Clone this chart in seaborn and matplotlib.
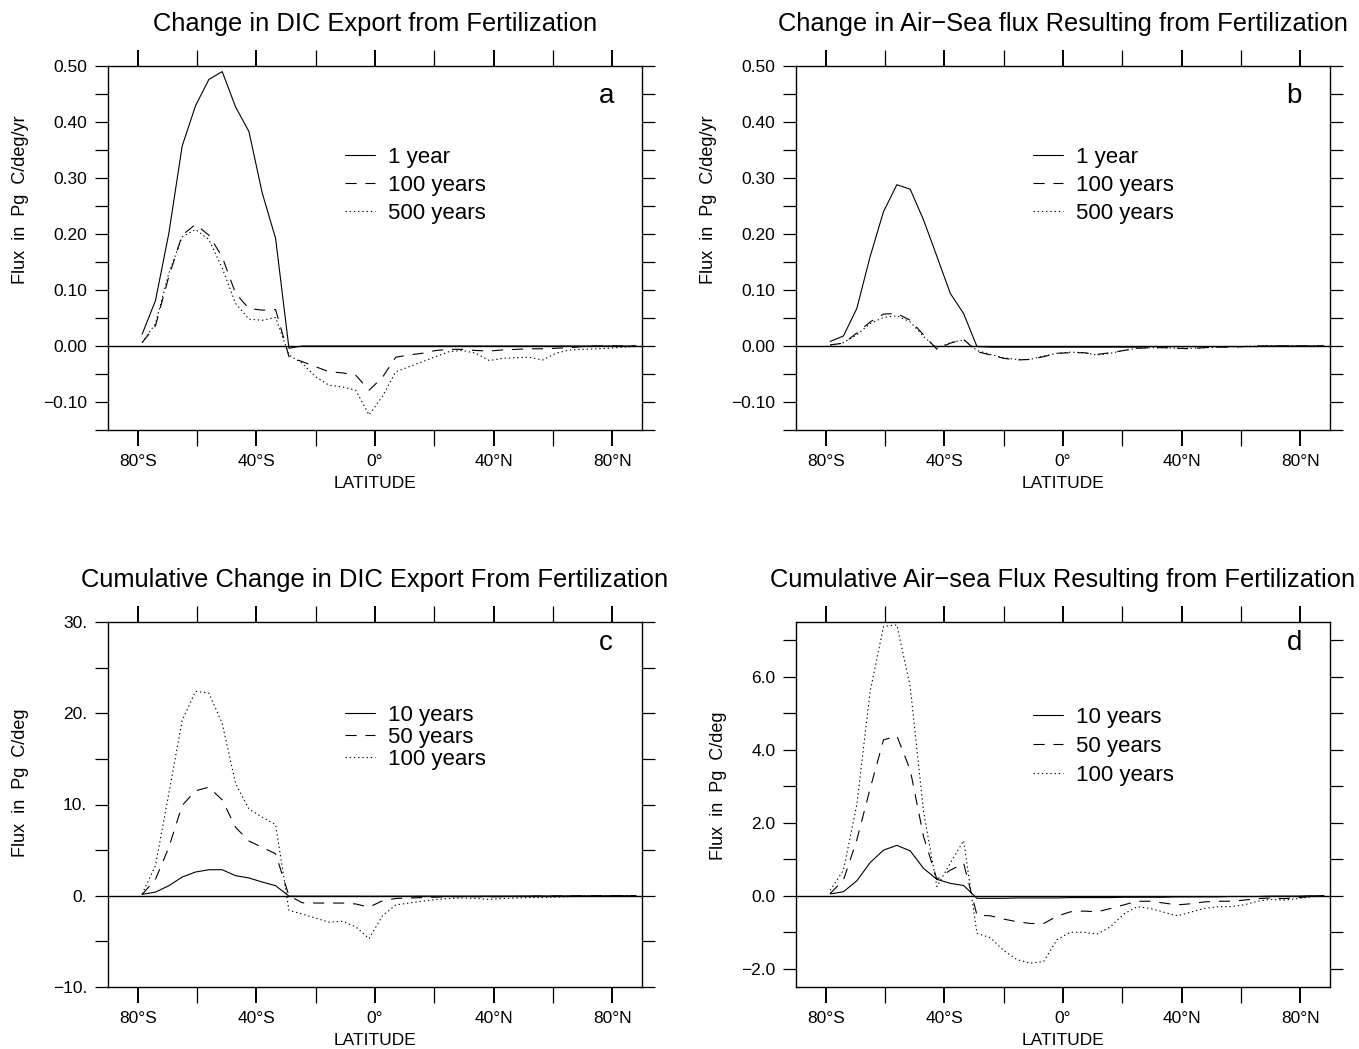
import matplotlib
matplotlib.use("Agg")
import matplotlib.pyplot as plt
from matplotlib.ticker import FixedLocator, FixedFormatter
import numpy as np
import pandas as pd
import seaborn as sns

# ---------------------------------------------------------------- data
# model latitude grid (4.5 degree spacing)
LAT = [-78.5, -74.0, -69.5, -65.0, -60.5, -56.0, -51.5, -47.0, -42.5, -38.0,
       -33.5, -29.0, -24.5, -20.0, -15.5, -11.0, -6.5, -2.0, 2.5, 7.0,
       11.5, 16.0, 20.5, 25.0, 29.5, 34.0, 38.5, 43.0, 47.5, 52.0,
       56.5, 61.0, 65.5, 70.0, 74.5, 79.0, 83.5, 88.0]

# (a) change in DIC export, Pg C/deg/yr
A_NAMES = ["1 year", "100 years", "500 years"]
A_1YR = [0.021, 0.081, 0.201, 0.357, 0.429, 0.476, 0.490, 0.427, 0.383, 0.273,
         0.192, -0.004, 0.000, 0.000, 0.000, 0.000, 0.000, 0.000, 0.000, 0.000,
         0.000, 0.000, 0.000, 0.000, 0.000, 0.000, 0.000, 0.000, 0.000, 0.000,
         0.000, 0.000, 0.000, 0.000, 0.000, 0.000, 0.000, 0.000]
A_100YR = [0.006, 0.036, 0.124, 0.198, 0.217, 0.198, 0.159, 0.094, 0.067, 0.064,
           0.065, -0.019, -0.028, -0.037, -0.046, -0.048, -0.052, -0.079, -0.056, -0.020,
           -0.016, -0.013, -0.008, -0.006, -0.006, -0.008, -0.009, -0.007, -0.006, -0.005,
           -0.005, -0.004, -0.003, -0.001, 0.000, 0.000, 0.000, 0.000]
A_500YR = [0.006, 0.040, 0.130, 0.195, 0.208, 0.190, 0.139, 0.076, 0.048, 0.046,
           0.051, -0.016, -0.031, -0.055, -0.070, -0.073, -0.079, -0.123, -0.090, -0.046,
           -0.037, -0.028, -0.019, -0.010, -0.008, -0.013, -0.026, -0.022, -0.021, -0.020,
           -0.025, -0.013, -0.007, -0.006, -0.005, -0.004, -0.002, -0.001]

# (b) change in air-sea flux, Pg C/deg/yr
B_NAMES = ["1 year", "100 years", "500 years"]
B_1YR = [0.008, 0.018, 0.067, 0.160, 0.240, 0.288, 0.280, 0.225, 0.160, 0.094,
         0.058, -0.001, -0.002, -0.002, -0.002, -0.002, -0.002, -0.002, -0.002, -0.002,
         -0.002, -0.002, -0.002, -0.002, -0.001, -0.001, -0.001, -0.001, -0.001, -0.001,
         -0.001, -0.001, -0.001, 0.000, 0.000, 0.000, 0.000, 0.000]
B_100YR = [0.002, 0.005, 0.023, 0.043, 0.057, 0.058, 0.046, 0.020, -0.006, 0.005,
           0.012, -0.010, -0.016, -0.022, -0.025, -0.024, -0.019, -0.013, -0.012, -0.012,
           -0.015, -0.012, -0.008, -0.004, -0.003, -0.003, -0.004, -0.005, -0.003, -0.002,
           -0.002, -0.001, 0.000, 0.000, 0.000, 0.000, 0.000, 0.000]
B_500YR = [0.001, 0.006, 0.020, 0.040, 0.051, 0.054, 0.043, 0.017, -0.004, 0.006,
           0.011, -0.008, -0.015, -0.021, -0.024, -0.024, -0.018, -0.013, -0.011, -0.012,
           -0.016, -0.013, -0.008, -0.004, -0.003, -0.003, -0.004, -0.004, -0.003, -0.002,
           -0.001, -0.001, 0.000, 0.000, 0.000, 0.000, 0.000, 0.000]

# (c) cumulative change in DIC export, Pg C/deg
C_NAMES = ["10 years", "50 years", "100 years"]
C_10YR = [0.15, 0.40, 1.10, 2.05, 2.60, 2.85, 2.85, 2.20, 1.95, 1.50,
          1.10, -0.04, -0.05, -0.05, -0.05, -0.05, -0.05, -0.06, -0.05, -0.05,
          -0.05, -0.04, -0.04, -0.04, -0.04, -0.04, -0.03, -0.03, -0.03, -0.02,
          -0.02, -0.02, -0.01, -0.01, -0.01, 0.00, 0.00, 0.00]
C_50YR = [0.15, 1.80, 5.30, 9.90, 11.50, 11.90, 10.50, 7.50, 6.00, 5.30,
          4.60, 0.00, -0.77, -0.80, -0.80, -0.80, -0.90, -1.25, -0.55, -0.30,
          -0.25, -0.20, -0.15, -0.10, -0.10, -0.10, -0.12, -0.10, -0.08, -0.06,
          -0.05, -0.03, -0.02, -0.01, 0.00, 0.00, 0.00, 0.00]
C_100YR = [0.20, 3.30, 11.20, 19.20, 22.40, 22.20, 18.90, 12.30, 9.50, 8.60,
           7.80, -1.60, -2.00, -2.45, -2.90, -2.80, -3.40, -4.70, -2.20, -1.00,
           -0.80, -0.60, -0.40, -0.30, -0.25, -0.30, -0.40, -0.30, -0.25, -0.20,
           -0.20, -0.15, -0.10, -0.05, -0.03, -0.02, -0.01, 0.00]

# (d) cumulative air-sea flux, Pg C/deg
D_NAMES = ["10 years", "50 years", "100 years"]
D_10YR = [0.05, 0.11, 0.41, 0.91, 1.25, 1.38, 1.23, 0.75, 0.45, 0.34,
          0.28, -0.07, -0.07, -0.07, -0.06, -0.06, -0.06, -0.06, -0.05, -0.05,
          -0.05, -0.05, -0.04, -0.04, -0.04, -0.04, -0.03, -0.03, -0.03, -0.03,
          -0.02, -0.02, -0.02, -0.01, -0.01, -0.01, 0.00, 0.00]
D_50YR = [0.06, 0.43, 1.53, 2.94, 4.27, 4.38, 3.45, 1.62, 0.45, 0.70,
          0.89, -0.53, -0.55, -0.64, -0.71, -0.76, -0.76, -0.56, -0.44, -0.42,
          -0.44, -0.35, -0.25, -0.15, -0.15, -0.20, -0.25, -0.22, -0.17, -0.15,
          -0.15, -0.12, -0.08, -0.06, -0.08, -0.05, -0.02, 0.00]
D_100YR = [0.15, 0.70, 2.50, 5.60, 7.38, 7.42, 5.73, 2.30, 0.25, 0.89,
           1.51, -1.03, -1.15, -1.50, -1.75, -1.85, -1.80, -1.20, -1.00, -1.00,
           -1.05, -0.85, -0.50, -0.30, -0.35, -0.45, -0.55, -0.45, -0.35, -0.30,
           -0.30, -0.25, -0.15, -0.10, -0.12, -0.08, -0.03, 0.00]

# axis ticks and labels
X_MAJOR = [-80, -40, 0, 40, 80]
X_MINOR = [-60, -20, 20, 60]
X_LABELS = ["80°S", "40°S", "0°", "40°N", "80°N"]

AB_YMAJOR = [-0.10, 0.00, 0.10, 0.20, 0.30, 0.40, 0.50]
AB_YMINOR = [-0.15, -0.05, 0.05, 0.15, 0.25, 0.35, 0.45]
AB_YLABELS = ["\u22120.10", "0.00", "0.10", "0.20", "0.30", "0.40", "0.50"]
C_YMAJOR = [-10, 0, 10, 20, 30]
C_YMINOR = [-5, 5, 15, 25]
C_YLABELS = ["\u221210.", "0.", "10.", "20.", "30."]
D_YMAJOR = [-2, 0, 2, 4, 6]
D_YMINOR = [-1, 1, 3, 5, 7]
D_YLABELS = ["\u22122.0", "0.0", "2.0", "4.0", "6.0"]

# ---------------------------------------------------------------- style
sns.set_theme(style="white")
plt.rcParams["font.family"] = ["Liberation Sans", "DejaVu Sans"]
plt.rcParams["axes.unicode_minus"] = True
plt.rcParams["text.color"] = "black"
plt.rcParams["axes.labelcolor"] = "black"
plt.rcParams["xtick.color"] = "black"
plt.rcParams["ytick.color"] = "black"

W, H = 1359, 1049
fig = plt.figure(figsize=(W / 100, H / 100), dpi=100)
fig.patch.set_facecolor("white")


def px_rect(x0, y0, x1, y1):
    return [x0 / W, 1 - y1 / H, (x1 - x0) / W, (y1 - y0) / H]


panels = [
    dict(rect=px_rect(108, 66, 642, 430), letter="a",
         title="Change in DIC Export from Fertilization",
         ylabel="Flux  in  Pg  C/deg/yr", names=A_NAMES,
         values=[A_1YR, A_100YR, A_500YR], ylim=(-0.15, 0.50),
         ymajor=AB_YMAJOR, yminor=AB_YMINOR, ylabels=AB_YLABELS,
         ylab_pos=(-0.163, 0.632), leg_top=0.778, leg_sp=0.32),
    dict(rect=px_rect(796, 66, 1330, 430), letter="b",
         title="Change in Air\u2212Sea flux Resulting from Fertilization",
         ylabel="Flux  in  Pg  C/deg/yr", names=B_NAMES,
         values=[B_1YR, B_100YR, B_500YR], ylim=(-0.15, 0.50),
         ymajor=AB_YMAJOR, yminor=AB_YMINOR, ylabels=AB_YLABELS,
         ylab_pos=(-0.163, 0.632), leg_top=0.778, leg_sp=0.32),
    dict(rect=px_rect(108, 622, 642, 987), letter="c",
         title="Cumulative Change in DIC Export From Fertilization",
         ylabel="Flux  in  Pg  C/deg", names=C_NAMES,
         values=[C_10YR, C_50YR, C_100YR], ylim=(-10, 30),
         ymajor=C_YMAJOR, yminor=C_YMINOR, ylabels=C_YLABELS,
         ylab_pos=(-0.163, 0.559), leg_top=0.772, leg_sp=0.04),
    dict(rect=px_rect(796, 622, 1330, 987), letter="d",
         title="Cumulative Air\u2212sea Flux Resulting from Fertilization",
         ylabel="Flux  in  Pg  C/deg", names=D_NAMES,
         values=[D_10YR, D_50YR, D_100YR], ylim=(-2.5, 7.5),
         ymajor=D_YMAJOR, yminor=D_YMINOR, ylabels=D_YLABELS,
         ylab_pos=(-0.146, 0.551), leg_top=0.768, leg_sp=0.36),
]

LW = 0.8
for p in panels:
    ax = fig.add_axes(p["rect"])
    ax.set_facecolor("white")
    names = p["names"]
    df = pd.DataFrame({
        "lat": LAT * 3,
        "flux": p["values"][0] + p["values"][1] + p["values"][2],
        "series": [names[0]] * len(LAT) + [names[1]] * len(LAT) + [names[2]] * len(LAT),
    })
    sns.lineplot(data=df, x="lat", y="flux", style="series", style_order=names,
                 dashes={names[0]: "", names[1]: (10, 8), names[2]: (1.2, 2.6)},
                 color="black", linewidth=LW, estimator=None, sort=False,
                 legend=False, ax=ax)
    handles = list(ax.get_lines()[:3])
    ax.axhline(0, color="black", lw=1.0, zorder=1)

    ax.set_xlim(-90, 90)
    ax.set_ylim(*p["ylim"])
    ax.xaxis.set_major_locator(FixedLocator(X_MAJOR))
    ax.xaxis.set_major_formatter(FixedFormatter(X_LABELS))
    ax.xaxis.set_minor_locator(FixedLocator(X_MINOR))
    ax.yaxis.set_major_locator(FixedLocator(p["ymajor"]))
    ax.yaxis.set_major_formatter(FixedFormatter(p["ylabels"]))
    ax.yaxis.set_minor_locator(FixedLocator(p["yminor"]))

    ax.tick_params(axis="both", which="both", direction="out",
                   top=True, right=True, bottom=True, left=True,
                   labeltop=False, labelright=False, labelsize=12.5)
    ax.tick_params(axis="x", which="major", length=11.5, width=1.4, pad=5.5)
    ax.tick_params(axis="x", which="minor", length=11.5, width=0.9)
    ax.tick_params(axis="y", which="both", length=9.4, width=0.9, pad=5.5)
    for s in ax.spines.values():
        s.set_visible(True)
        s.set_color("black")
        s.set_linewidth(1.0)

    ax.set_xlabel("LATITUDE", fontsize=12.5)
    ax.xaxis.label.set_va("center")
    ax.xaxis.set_label_coords(0.5, -0.146)
    ax.set_ylabel(p["ylabel"], fontsize=13)
    ax.yaxis.label.set_va("center")
    ax.yaxis.set_label_coords(*p["ylab_pos"])

    ax.set_title(p["title"], fontsize=18.4, y=1.0, pad=25)
    ax.text(0.933, 0.918 if p["letter"] in "ab" else 0.942, p["letter"],
            transform=ax.transAxes, ha="center", va="center", fontsize=20)

    ax.legend(handles, names, loc="upper left", bbox_to_anchor=(0.444, p["leg_top"]),
              frameon=False, fontsize=16, handlelength=1.35,
              handletextpad=0.6, labelspacing=p["leg_sp"], borderpad=0,
              borderaxespad=0)

fig.savefig("out.png", dpi=100, facecolor="white")
